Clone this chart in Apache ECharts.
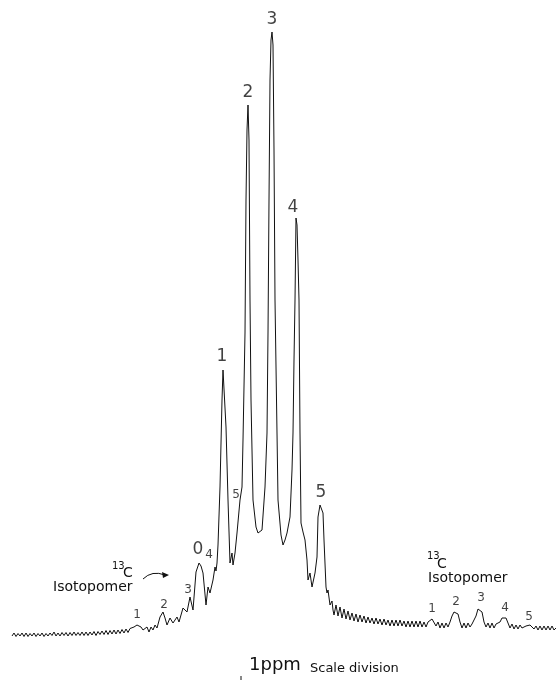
<!DOCTYPE html>
<html><head><meta charset="utf-8">
<script src="https://cdn.jsdelivr.net/npm/echarts@6/dist/echarts.min.js"></script>
<style>html,body{margin:0;padding:0;background:#fff}#c{width:558px;height:680px}</style>
</head><body><div id="c"></div>
<script>
// Spectrum: [position, intensity]
const spectrumLeftBaseline = [
[12,4],[14,7],[16,3.5],[18,6.5],[20,4],[22,7],[24,3.5],[26,7],[28,3.5],[30,6.5],
[32,4],[34,7],[36,3.5],[38,6.5],[40,4],[42,7],[44,3.5],[46,6.5],[48,4],[50,7],
[52,4.5],[54,8],[56,4],[58,7],[60,4],[62,7.5],[64,4.5],[66,7.5],[68,4],[70,7.5],
[72,4.5],[74,8],[76,4.5],[78,7.5],[80,4.5],[82,8],[84,4.5],[86,8],[88,4.5],[90,8],
[92,5],[94,8.5],[96,4.5],[98,8.5],[100,5.5],[102,9],[104,5.5],[106,9.5],[108,5.5],[110,9.5],
[112,6],[114,10],[116,6],[118,10],[120,6.5],[122,10.5],[124,7],[126,11],[128,7.5],[130,11.5]
];
const spectrumLeftIsotopomer = [
[132,10],[134,13],[137,15],[139,16],[141,13],[143,10],[145,9],[147,13],[149,8],[151,13],
[153,10],[155,15],[157,12],[160,23],[163,28],[165,22],[167,15],[170,22],[173,17],[177,23],
[179,18],[183,32],[187,28],[190,43],[193,30],[196,68],[199,77],[201,74],[203,67],[206,35],
[208,53],[210,47],[213,60],[215,73],[216,69],[217,77]
];
const spectrumMultiplet = [
[218,95],[220,153],[222,240],[223,270],[224,268],[226,213],[228,140],[230,77],[232,87],[233,75],
[235,87],[237,107],[240,140],[242,153],[243,200],[245,307],[246,440],[247,510],[248,535],[249,500],
[250,340],[251,240],[252,190],[253,140],[256,113],[258,107],[260,105],[262,110],[265,153],[267,207],
[268,307],[269,440],[270,560],[271,600],[272,608],[273,595],[274,490],[275,340],[277,207],[278,140],
[281,105],[283,95],[285,100],[287,107],[290,123],[292,170],[293,207],[294,280],[295,340],[296,422],
[297,415],[298,380],[299,340],[300,207],[301,117],[303,108],[305,100],[307,80],[308,60],[310,67],
[312,53],[315,67],[317,83],[318,123],[320,135],[321,135],[323,127],[324,100],[326,53],[327,47],
[328,50],[330,35],[332,39],[333,30]
];
const spectrumRight = [
[334,25],[336,35],[338,24],[340,33],[342,22],[344,31],[346,21],[348,29],[350,20],[352,27],
[354,19],[356,26],[358,18],[360,25],[362,18],[364,24],[366,17],[368,23],[370,17],[372,22],
[374,16],[376,22],[378,16],[380,21],[382,15],[384,21],[386,15],[388,20],[390,14],[392,20],
[394,14],[396,20],[398,14],[400,20],[402,14],[404,19],[406,13],[408,19],[410,13],[412,19],
[414,13],[416,19],[418,13],[420,19],[422,13],[424,18],[426,13],[428,18],[430,20],[432,21],
[434,20],[436,14],[438,18],[440,12],[442,17],[444,12],[446,17],[448,13],[450,18],[452,24],
[454,28],[456,29],[458,26],[460,18],[462,12],[464,17],[466,12],[468,17],[470,13],[472,16],
[474,18],[476,24],[478,31],[480,32],[482,28],[484,18],[486,13],[488,17],[490,12],[492,17],
[494,12],[496,16],[498,14],[500,18],[502,22],[504,24],[506,22],[508,17],[510,12],[512,16],
[514,11],[516,15],[518,11],[520,15],[522,12],[524,14],[526,14],[528,15],[530,15],[532,14],
[534,11],[536,14],[538,10],[540,14],[542,10],[544,14],[546,10],[548,14],[550,10],[552,14],
[554,10],[556,12]
];
// Peak number labels: [text, position, intensity]
const majorPeakLabels = [['3',272,620],['2',248,547],['4',293,432],['1',222,283],['5',321,147],['0',198,90]];
const minorPeakLabels = [['5',236,145],['4',209,85],['3',188,50],['2',164,35],['1',137,25],
  ['1',432,31],['2',456,38],['3',481,42],['4',505,32],['5',529,23]];

const spectrum = [].concat(spectrumLeftBaseline, spectrumLeftIsotopomer, spectrumMultiplet, spectrumRight);
const FONT = 'DejaVu Sans';
const INK = '#111111';

function labelItems(list, size) {
  return list.map(l => ({ name: l[0], value: [l[1], l[2]], label: { fontSize: size } }));
}

const chart = echarts.init(document.getElementById('c'), null, { renderer: 'canvas' });
chart.setOption({
  animation: false,
  backgroundColor: '#ffffff',
  grid: { left: 10, right: 2, top: 0, bottom: 40 },
  xAxis: { type: 'value', min: 10, max: 556, show: false },
  yAxis: { type: 'value', min: 0, max: 640, show: false },
  series: [
    {
      type: 'line', data: spectrum, showSymbol: false, symbol: 'none',
      lineStyle: { color: INK, width: 1 }, clip: false
    },
    {
      type: 'scatter', symbolSize: 0, clip: false, silent: true,
      data: labelItems(majorPeakLabels, 17).concat(labelItems(minorPeakLabels, 12)),
      label: { show: true, position: 'inside', formatter: '{b}', color: INK, fontFamily: FONT,
               textBorderWidth: 0, textShadowBlur: 0 }
    }
  ],
  graphic: [
    { type: 'text', x: 112, y: 566, style: { text: '13', font: '10px ' + FONT, fill: INK, verticalAlign: 'middle' } },
    { type: 'text', x: 123, y: 573, style: { text: 'C', font: '14px ' + FONT, fill: INK, verticalAlign: 'middle' } },
    { type: 'text', x: 53, y: 587, style: { text: 'Isotopomer', font: '14px ' + FONT, fill: INK, verticalAlign: 'middle' } },
    { type: 'bezierCurve', shape: { x1: 143, y1: 579, x2: 165, y2: 575, cpx1: 152, cpy1: 570 },
      style: { stroke: INK, lineWidth: 1, fill: null } },
    { type: 'polygon', shape: { points: [[169, 575], [162, 572], [163, 578]] }, style: { fill: INK } },
    { type: 'text', x: 427, y: 556, style: { text: '13', font: '10px ' + FONT, fill: INK, verticalAlign: 'middle' } },
    { type: 'text', x: 437, y: 564, style: { text: 'C', font: '14px ' + FONT, fill: INK, verticalAlign: 'middle' } },
    { type: 'text', x: 428, y: 578, style: { text: 'Isotopomer', font: '14px ' + FONT, fill: INK, verticalAlign: 'middle' } },
    { type: 'text', x: 249, y: 665.5, style: { text: '1ppm', font: '18px ' + FONT, fill: INK, verticalAlign: 'middle' } },
    { type: 'text', x: 310, y: 668.5, style: { text: 'Scale division', font: '13px ' + FONT, fill: INK, verticalAlign: 'middle' } },
    { type: 'line', shape: { x1: 241, y1: 676, x2: 241, y2: 680 }, style: { stroke: INK, lineWidth: 1 } }
  ]
});
</script>
</body></html>
